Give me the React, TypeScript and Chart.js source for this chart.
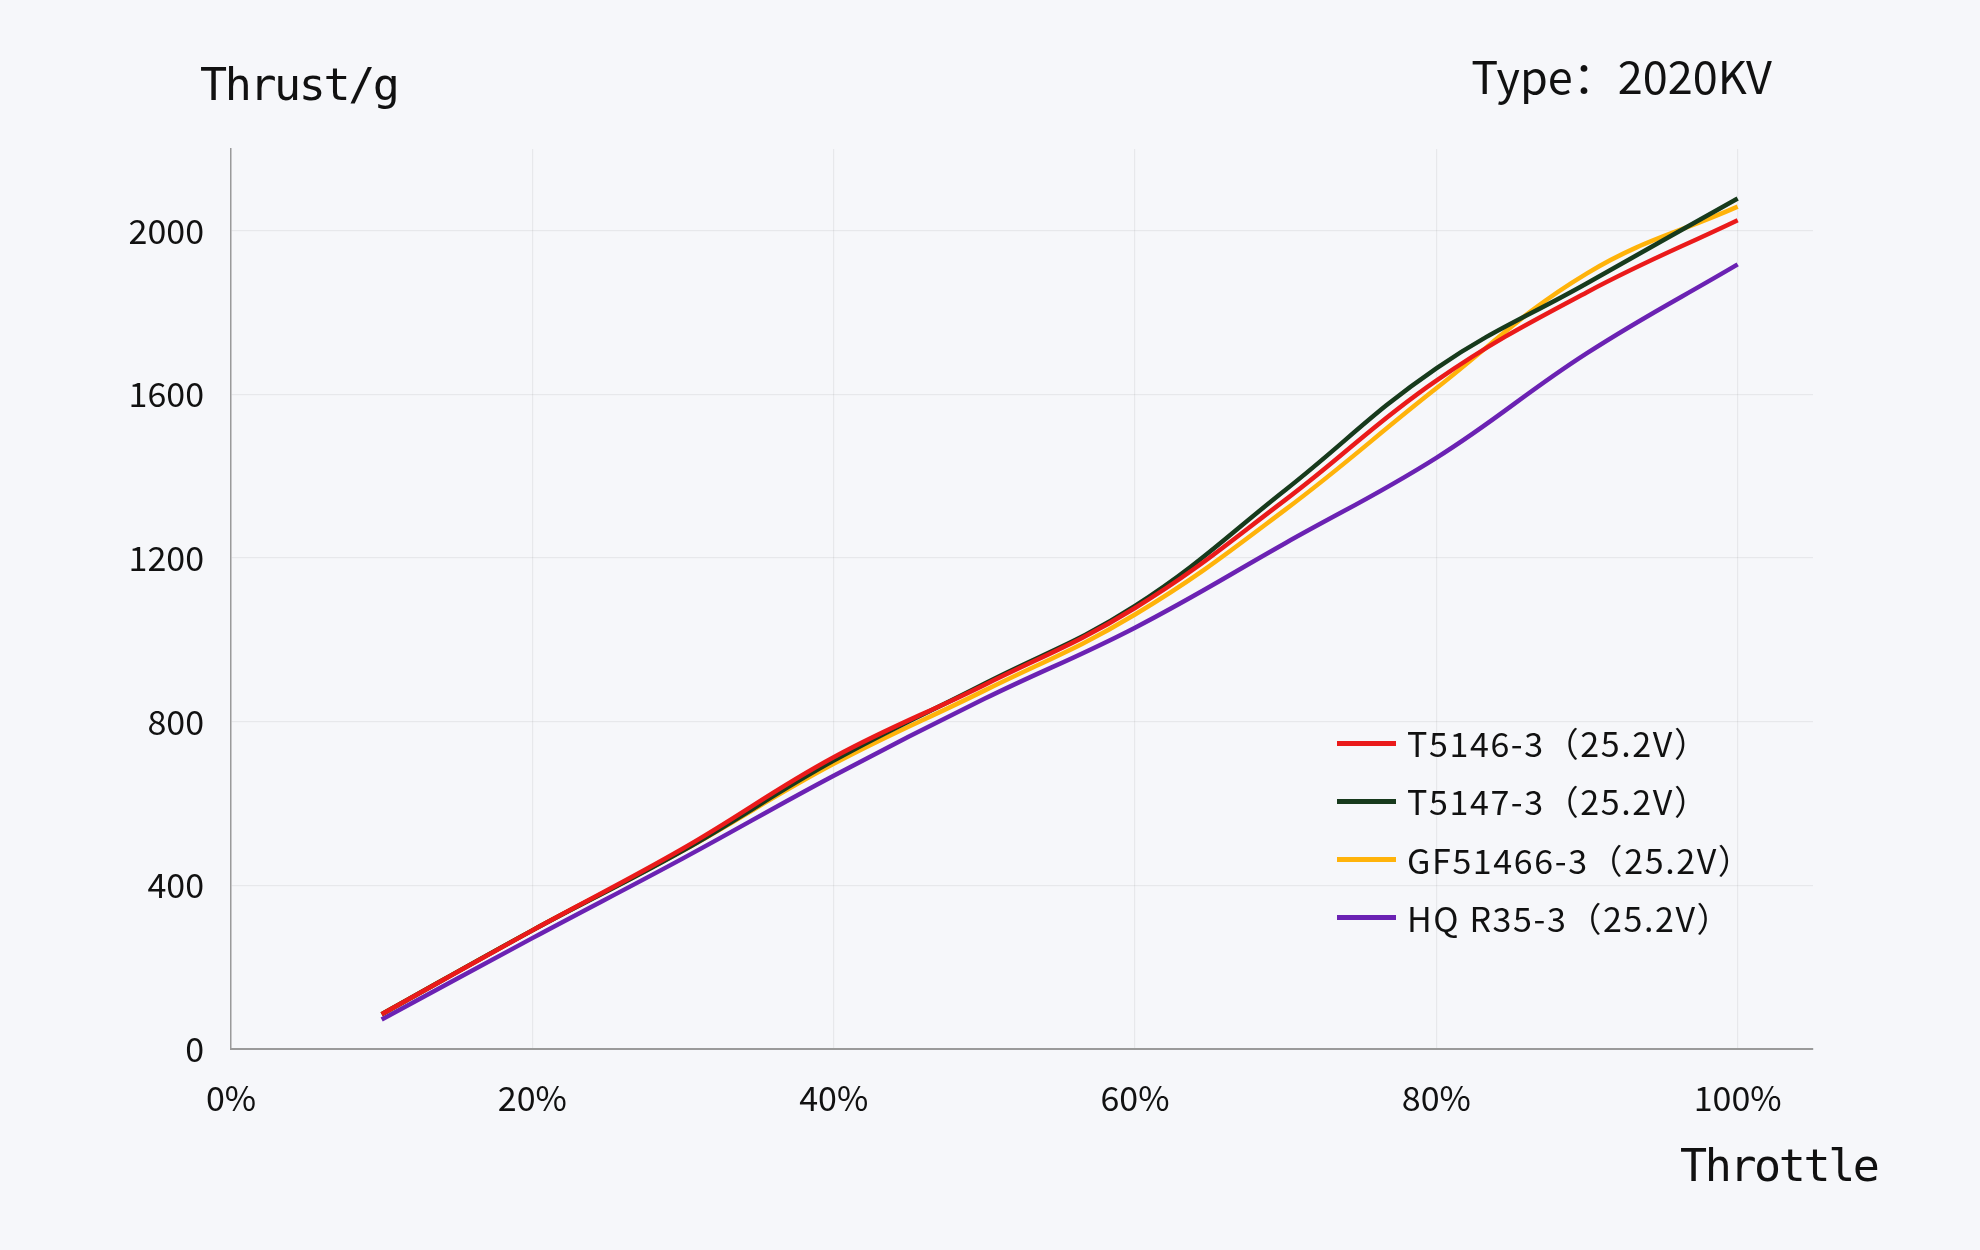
import React, { useEffect, useRef } from "react";
import { Chart, registerables } from "chart.js";

Chart.register(...registerables);

// ---- data ----
const THROTTLE = [10, 20, 30, 40, 50, 60, 70, 80, 90, 100];
const T5146 = [85, 290, 490, 713, 890, 1078, 1343, 1634, 1850, 2026];
const T5147 = [85, 290, 485, 705, 893, 1083, 1367, 1664, 1872, 2079];
const GF51466 = [85, 290, 485, 697, 876, 1062, 1319, 1615, 1896, 2059];
const HQR35 = [72, 271, 466, 668, 856, 1030, 1237, 1445, 1701, 1918];

const SERIES_NAMES = [
  "T5146-3（25.2V）",
  "T5147-3（25.2V）",
  "GF51466-3（25.2V）",
  "HQ R35-3（25.2V）",
];
const SERIES_VALUES = [T5146, T5147, GF51466, HQR35];
const SERIES_COLORS = ["#ea1a1a", "#173a1c", "#ffb30a", "#6b22b3"];

const X_TICKS = [0, 20, 40, 60, 80, 100];
const Y_TICKS = [0, 400, 800, 1200, 1600, 2000];

const Y_TITLE = "Thrust/g";
const X_TITLE = "Throttle";
const TYPE_LABEL = "Type：2020KV";

const TICK_FONT = "'Noto Sans CJK SC', 'Noto Sans', sans-serif";
const TITLE_FONT = "'DejaVu Sans Mono', monospace";

export default function App() {
  const canvasRef = useRef<HTMLCanvasElement>(null);

  useEffect(() => {
    const canvas = canvasRef.current;
    if (!canvas) return;
    const chart = new Chart(canvas, {
      type: "line",
      data: {
        datasets: SERIES_NAMES.map((name, i) => ({
          label: name,
          data: THROTTLE.map((x, j) => ({ x, y: SERIES_VALUES[i][j] })),
          borderColor: SERIES_COLORS[i],
          backgroundColor: SERIES_COLORS[i],
          borderWidth: 4.5,
          pointRadius: 0,
          tension: 0.4,
          fill: false,
        })),
      },
      options: {
        animation: false,
        responsive: false,
        devicePixelRatio: 1,
        layout: { padding: { top: 149, right: 167, bottom: 0, left: 0 } },
        plugins: {
          legend: { display: false },
          tooltip: { enabled: false },
          title: { display: false },
        },
        scales: {
          x: {
            type: "linear",
            min: 0,
            max: 105,
            afterBuildTicks: (scale: any) => {
              scale.ticks = X_TICKS.map((v) => ({ value: v }));
            },
            afterFit: (scale: any) => {
              scale.height = 201;
            },
            grid: {
              color: "rgba(0,0,0,0.06)",
              lineWidth: 1.2,
              drawTicks: false,
            },
            border: { color: "#9a9a9a", width: 2 },
            ticks: {
              padding: 29,
              color: "#111",
              font: { family: TICK_FONT, size: 34 },
              callback: (v: any) => `${v}%`,
              maxRotation: 0,
            },
          },
          y: {
            type: "linear",
            min: 0,
            max: 2200,
            afterBuildTicks: (scale: any) => {
              scale.ticks = Y_TICKS.map((v) => ({ value: v }));
            },
            afterFit: (scale: any) => {
              scale.width = 231;
            },
            grid: {
              color: "rgba(0,0,0,0.06)",
              lineWidth: 1.2,
              drawTicks: false,
            },
            border: { color: "#9a9a9a", width: 1.5 },
            ticks: {
              padding: 27,
              color: "#111",
              font: { family: TICK_FONT, size: 34 },
              callback: (v: any) => String(v),
            },
          },
        },
      },
    });
    return () => chart.destroy();
  }, []);

  const titleStyle: React.CSSProperties = {
    position: "absolute",
    fontFamily: TITLE_FONT,
    fontSize: 45,
    lineHeight: "45px",
    letterSpacing: "-2.4px",
    color: "#111",
    whiteSpace: "nowrap",
  };

  return (
    <div
      style={{
        position: "absolute",
        left: 0,
        top: 0,
        width: 1980,
        height: 1250,
        background: "#f6f7fa",
        overflow: "hidden",
      }}
    >
      <canvas
        ref={canvasRef}
        width={1980}
        height={1250}
        style={{ position: "absolute", left: 0, top: 0, width: 1980, height: 1250 }}
      />
      <div style={{ ...titleStyle, left: 200, top: 62 }}>{Y_TITLE}</div>
      <div style={{ ...titleStyle, left: 1680, top: 1143 }}>{X_TITLE}</div>
      <div
        style={{
          position: "absolute",
          right: 1980 - 1772,
          top: 52,
          fontFamily: TICK_FONT,
          fontSize: 45,
          lineHeight: "45px",
          color: "#111",
          whiteSpace: "nowrap",
        }}
      >
        {TYPE_LABEL}
      </div>
      {SERIES_NAMES.map((name, i) => (
        <div
          key={name}
          style={{
            position: "absolute",
            left: 1337,
            top: 743 + i * 58.3 - 20,
            height: 40,
            display: "flex",
            alignItems: "center",
            whiteSpace: "nowrap",
          }}
        >
          <div
            style={{
              width: 59,
              height: 5,
              background: SERIES_COLORS[i],
              marginRight: 11,
            }}
          />
          <span
            style={{
              fontFamily: TICK_FONT,
              fontSize: 34,
              lineHeight: "40px",
              letterSpacing: "1.6px",
              color: "#111",
            }}
          >
            {name}
          </span>
        </div>
      ))}
    </div>
  );
}
